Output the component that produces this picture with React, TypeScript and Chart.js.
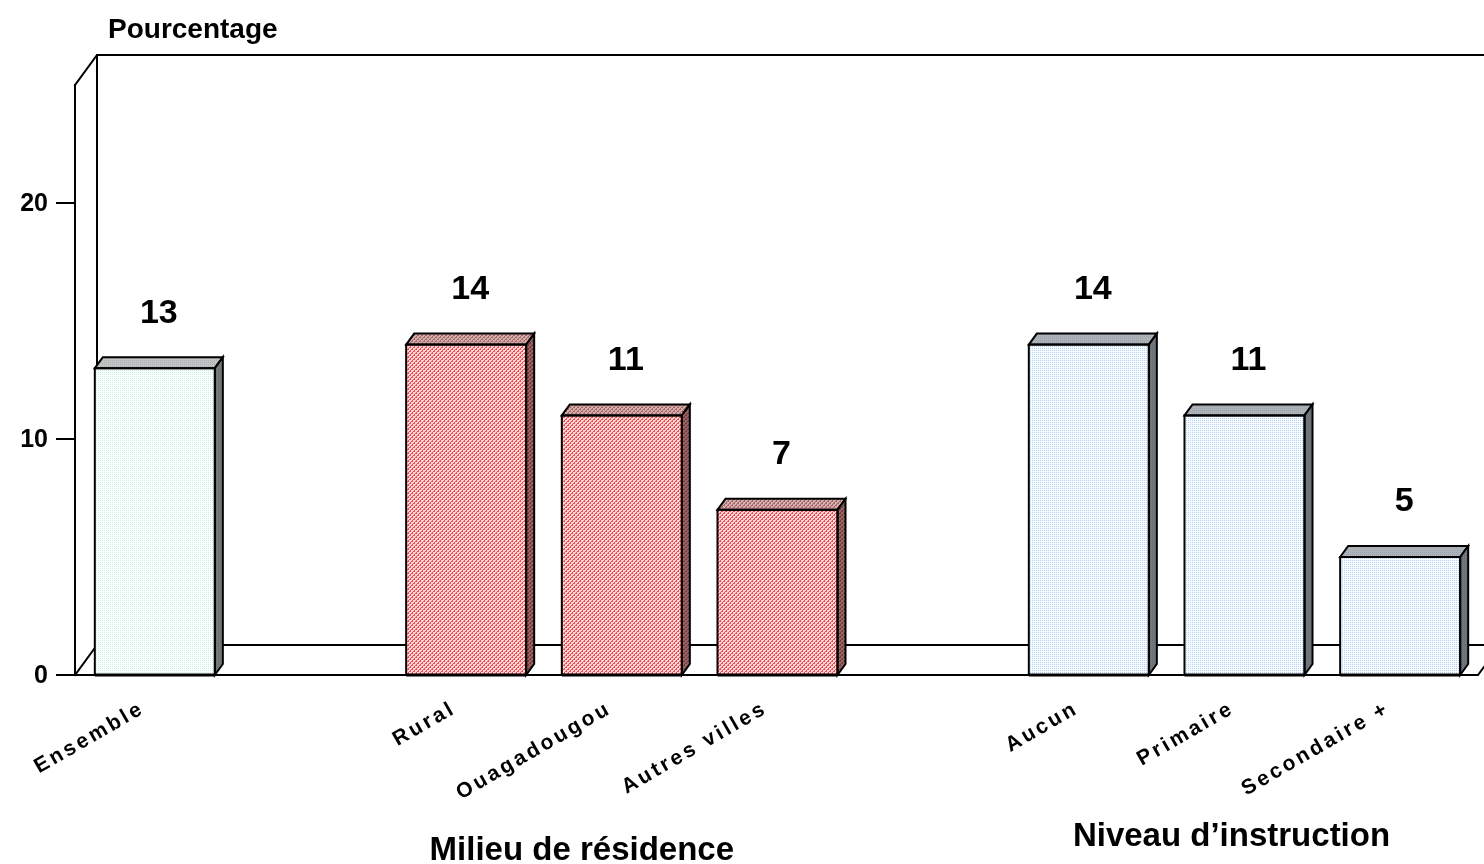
import React, { useEffect, useRef } from "react";
import { Chart, registerables } from "chart.js";

Chart.register(...registerables);

const categories = ["Ensemble", "", "Rural", "Ouagadougou", "Autres villes", "", "Aucun", "Primaire", "Secondaire +"];
const values: (number | null)[] = [13, null, 14, 11, 7, null, 14, 11, 5];
const groupKind = ["total", "none", "milieu", "milieu", "milieu", "none", "niveau", "niveau", "niveau"];
const yTicks = [0, 10, 20];
const yAxisTitle = "Pourcentage";
const groupTitles = [
  { text: "Milieu de résidence", from: 2, to: 4 },
  { text: "Niveau d’instruction", from: 6, to: 8 },
];

const FONT = "'Liberation Sans', Arial, sans-serif";

function makePattern(kind: string, face: string): CanvasPattern | string {
  const c = document.createElement("canvas");
  c.width = 4;
  c.height = 4;
  const g = c.getContext("2d")!;
  let bg = "#fff", fg = "#000", mode = "dots";
  if (kind === "total") {
    if (face === "front") { bg = "#fbfffd"; fg = "#cdeee2"; }
    else if (face === "top") { bg = "#c0c4c4"; fg = "#aeb2b2"; }
    else { bg = "#767a7a"; fg = "#6a6e6e"; }
  } else if (kind === "milieu") {
    mode = "diag";
    if (face === "front") { bg = "#ffd4d4"; fg = "#f24c50"; }
    else if (face === "top") { bg = "#d4acac"; fg = "#a46868"; }
    else { bg = "#9c6464"; fg = "#6c3c3c"; }
  } else {
    if (face === "front") { bg = "#f8fbff"; fg = "#b4d2f2"; }
    else if (face === "top") { bg = "#adb3b9"; fg = "#9ba3ab"; }
    else { bg = "#72787e"; fg = "#646a70"; }
  }
  g.fillStyle = bg;
  g.fillRect(0, 0, 4, 4);
  g.fillStyle = fg;
  for (let y = 0; y < 4; y++) {
    for (let x = 0; x < 4; x++) {
      if (mode === "diag") {
        if ((x + y) % 4 === 0 || ((x + y) % 4 === 1 && x % 2 === 0)) g.fillRect(x, y, 1, 1);
      } else {
        if (x % 2 === 0 && y % 2 === 0) g.fillRect(x, y, 1, 1);
      }
    }
  }
  const tmp = document.createElement("canvas").getContext("2d")!;
  return tmp.createPattern(c, "repeat") || bg;
}

const DX = 8, DY = -11; // bar depth
const WX = 22, WY = -30; // wall depth

const bar3d = {
  id: "bar3d",
  beforeDatasetsDraw(chart: any) {
    const ctx = chart.ctx as CanvasRenderingContext2D;
    const ys = chart.scales.y;
    const ca = chart.chartArea;
    const L = ca.left - 2;
    const B = ys.getPixelForValue(0);
    const T = ys.getPixelForValue(25);
    const W = chart.width;
    const R = ca.right;
    ctx.save();
    ctx.strokeStyle = "#000";
    ctx.lineWidth = 2;
    ctx.lineCap = "square";
    ctx.beginPath();
    ctx.moveTo(L, T); ctx.lineTo(L, B);
    ctx.moveTo(L, T); ctx.lineTo(L + WX, T + WY); ctx.lineTo(W + 5, T + WY);
    ctx.moveTo(L + WX, T + WY); ctx.lineTo(L + WX, B + WY);
    ctx.moveTo(L, B); ctx.lineTo(L + WX, B + WY); ctx.lineTo(W + 5, B + WY);
    ctx.moveTo(L - 18, B); ctx.lineTo(R, B); ctx.lineTo(R + WX, B + WY);
    for (const t of yTicks) {
      const y = ys.getPixelForValue(t);
      ctx.moveTo(L - 18, y); ctx.lineTo(L, y);
    }
    ctx.stroke();
    ctx.fillStyle = "#000";
    ctx.font = `bold 25px ${FONT}`;
    ctx.textAlign = "right";
    ctx.textBaseline = "middle";
    for (const t of yTicks) {
      ctx.fillText(String(t), L - 27, ys.getPixelForValue(t) + 1);
    }
    ctx.textAlign = "left";
    ctx.font = `bold 28px ${FONT}`;
    ctx.fillText(yAxisTitle, 108, 30);
    ctx.restore();
  },
  afterDatasetsDraw(chart: any) {
    const ctx = chart.ctx as CanvasRenderingContext2D;
    const meta = chart.getDatasetMeta(0);
    const xs = chart.scales.x;
    ctx.save();
    ctx.strokeStyle = "#000";
    ctx.lineWidth = 2;
    ctx.lineJoin = "miter";
    meta.data.forEach((el: any, i: number) => {
      const v = values[i];
      if (v === null || v === undefined) return;
      const p = el.getProps(["x", "y", "base", "width"], true);
      const l = p.x - p.width / 2, r = p.x + p.width / 2, t = p.y, b = p.base;
      const kind = groupKind[i];
      ctx.beginPath();
      ctx.moveTo(l, t); ctx.lineTo(l + DX, t + DY); ctx.lineTo(r + DX, t + DY); ctx.lineTo(r, t); ctx.closePath();
      ctx.fillStyle = makePattern(kind, "top") as any;
      ctx.fill(); ctx.stroke();
      ctx.beginPath();
      ctx.moveTo(r, t); ctx.lineTo(r + DX, t + DY); ctx.lineTo(r + DX, b + DY); ctx.lineTo(r, b); ctx.closePath();
      ctx.fillStyle = makePattern(kind, "side") as any;
      ctx.fill(); ctx.stroke();
      ctx.strokeRect(l, t, r - l, b - t);
      ctx.beginPath();
      ctx.lineWidth = 3;
      ctx.moveTo(l, b); ctx.lineTo(r, b);
      ctx.stroke();
      ctx.lineWidth = 2;
      ctx.fillStyle = "#000";
      ctx.font = `bold 34px ${FONT}`;
      ctx.textAlign = "center";
      ctx.textBaseline = "middle";
      ctx.fillText(String(v), p.x + 4, t - 55);
    });
    ctx.fillStyle = "#000";
    ctx.font = `bold 21px ${FONT}`;
    (ctx as any).letterSpacing = "3px";
    ctx.textAlign = "right";
    ctx.textBaseline = "middle";
    categories.forEach((c, i) => {
      if (!c) return;
      const x = xs.getPixelForValue(i);
      ctx.save();
      ctx.translate(x - 12, 707);
      ctx.rotate(-Math.PI / 6);
      ctx.fillText(c, 0, 0);
      ctx.restore();
    });
    (ctx as any).letterSpacing = "0px";
    ctx.font = `bold 33px ${FONT}`;
    ctx.textAlign = "center";
    groupTitles.forEach((g, k) => {
      const x = (xs.getPixelForValue(g.from) + xs.getPixelForValue(g.to)) / 2;
      ctx.fillText(g.text, k === 0 ? x - 40 : x - 13, k === 0 ? 851 : 837);
    });
    ctx.restore();
  },
};

export default function App() {
  const ref = useRef<HTMLCanvasElement>(null);
  useEffect(() => {
    const canvas = ref.current!;
    const bg = categories.map((_, i) => makePattern(groupKind[i], "front"));
    const chart = new Chart(canvas, {
      type: "bar",
      data: {
        labels: categories,
        datasets: [
          {
            data: values as any,
            backgroundColor: bg as any,
            borderColor: "#000",
            borderWidth: 0,
            barPercentage: 0.771,
            categoryPercentage: 1,
          },
        ],
      },
      options: {
        animation: false,
        responsive: false,
        layout: { padding: { left: 77, right: 6, top: 85, bottom: 189 } },
        plugins: { legend: { display: false }, tooltip: { enabled: false } },
        scales: {
          x: { display: false, offset: true, grid: { display: false } },
          y: { display: false, min: 0, max: 25 },
        },
      },
      plugins: [bar3d],
    });
    return () => chart.destroy();
  }, []);
  return (
    <div style={{ position: "absolute", left: 0, top: 0, width: 1484, height: 864, background: "#fff" }}>
      <canvas ref={ref} width={1484} height={864} style={{ display: "block" }} />
    </div>
  );
}
